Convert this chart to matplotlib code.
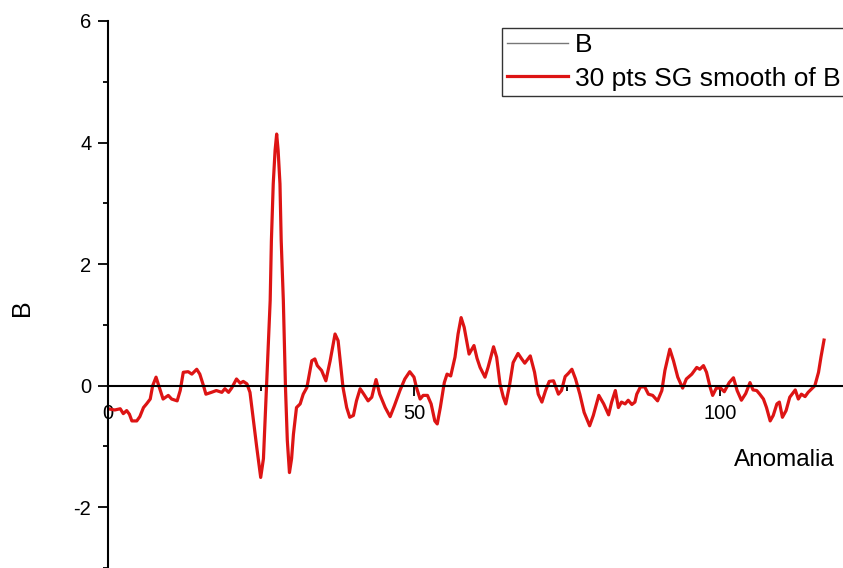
import matplotlib
matplotlib.use('Agg')
import matplotlib.pyplot as plt

plt.rcParams['font.family'] = ['Liberation Sans', 'DejaVu Sans']
plt.rcParams['axes.unicode_minus'] = False

# --- data (smoothed curve) ---
anomalia = [0.0, 1.1, 2.0, 2.5, 3.05, 3.5, 3.9, 4.7, 5.2, 5.8, 6.3, 6.9, 7.3, 7.85,
            8.4, 9.0, 9.85, 10.4, 11.3, 11.8, 12.3, 13.1, 13.7, 14.5, 15.0, 15.6,
            16.0, 16.9, 17.7, 18.6, 19.1, 19.7, 20.2, 21.0, 21.6, 22.1, 22.7, 23.2,
            23.7, 24.3, 24.95, 25.4, 25.9, 26.5, 26.7, 27.0, 27.3, 27.56, 27.8,
            28.1, 28.3, 28.65, 29.0, 29.3, 29.65, 30.0, 30.3, 30.8, 31.4, 31.9,
            32.5, 33.3, 33.8, 34.2, 34.9, 35.6, 36.3, 37.1, 37.6, 38.4, 39.0, 39.5,
            40.1, 40.6, 41.2, 41.8, 42.5, 43.1, 43.8, 44.4, 45.3, 46.1, 46.8, 47.7,
            48.5, 49.3, 50.0, 50.4, 51.0, 51.5, 52.2, 52.8, 53.4, 53.8, 54.3, 54.95,
            55.4, 56.0, 56.7, 57.2, 57.7, 58.2, 59.0, 59.8, 60.3, 60.8, 61.6, 62.1,
            63.0, 63.5, 64.05, 64.6, 65.0, 65.6, 66.2, 67.0, 67.6, 68.1, 69.0, 69.7,
            70.3, 70.9, 71.5, 72.1, 72.8, 73.6, 74.1, 74.7, 75.2, 75.8, 76.4, 77.1,
            77.8, 78.7, 79.3, 80.2, 81.0, 81.8, 82.3, 82.9, 83.4, 83.9, 84.5, 85.0,
            85.6, 86.1, 86.4, 87.0, 87.7, 88.3, 89.0, 89.8, 90.5, 91.0, 91.8, 92.4,
            93.1, 93.9, 94.5, 95.4, 96.2, 96.7, 97.3, 97.8, 98.4, 98.8, 99.4, 100.1,
            100.7, 101.5, 102.2, 102.8, 103.5, 104.2, 104.9, 105.4, 106.0, 106.5,
            107.1, 107.6, 108.2, 108.7, 109.3, 109.7, 110.2, 110.8, 111.4, 112.3,
            112.8, 113.3, 113.9, 114.4, 115.0, 115.5, 116.1, 116.5, 117.0]
b_smooth = [-0.38, -0.40, -0.38, -0.46, -0.41, -0.47, -0.58, -0.58, -0.51, -0.36, -0.30,
            -0.22, 0.00, 0.14, -0.03, -0.22, -0.16, -0.22, -0.25, -0.08, 0.22, 0.23,
            0.19, 0.27, 0.19, 0.00, -0.14, -0.11, -0.08, -0.11, -0.05, -0.11, -0.04,
            0.11, 0.04, 0.07, 0.03, -0.11, -0.52, -1.01, -1.51, -1.20, -0.03, 1.40,
            2.39, 3.32, 3.87, 4.14, 3.87, 3.32, 2.39, 1.40, -0.03, -0.90, -1.43,
            -1.20, -0.80, -0.36, -0.30, -0.14, -0.03, 0.41, 0.44, 0.33, 0.25, 0.08,
            0.41, 0.85, 0.74, -0.03, -0.36, -0.52, -0.49, -0.25, -0.05, -0.14, -0.25,
            -0.19, 0.10, -0.14, -0.36, -0.51, -0.33, -0.08, 0.11, 0.23, 0.14, -0.03,
            -0.22, -0.16, -0.16, -0.30, -0.58, -0.63, -0.36, 0.05, 0.19, 0.16, 0.47,
            0.85, 1.12, 0.96, 0.52, 0.66, 0.45, 0.30, 0.14, 0.30, 0.64, 0.47, 0.03,
            -0.19, -0.30, 0.00, 0.38, 0.53, 0.44, 0.37, 0.49, 0.22, -0.14, -0.27,
            -0.08, 0.07, 0.08, -0.14, -0.08, 0.15, 0.20, 0.27, 0.11, -0.14, -0.44,
            -0.66, -0.49, -0.16, -0.30, -0.48, -0.27, -0.08, -0.36, -0.27, -0.30,
            -0.24, -0.31, -0.27, -0.14, -0.02, -0.02, -0.14, -0.16, -0.25, -0.08,
            0.25, 0.60, 0.41, 0.14, -0.04, 0.11, 0.19, 0.30, 0.27, 0.33, 0.22, -0.03,
            -0.16, -0.04, -0.04, -0.10, 0.05, 0.13, -0.08, -0.24, -0.13, 0.05, -0.07,
            -0.08, -0.14, -0.22, -0.36, -0.58, -0.49, -0.30, -0.27, -0.52, -0.41,
            -0.19, -0.07, -0.22, -0.14, -0.18, -0.11, -0.05, 0.00, 0.22, 0.47, 0.75]

x_ticks = [0, 50, 100]
y_ticks = [-2, 0, 2, 4, 6]

fig = plt.figure(figsize=(8.43, 5.68), dpi=100)
ax = fig.add_axes([108 / 843, 0.0, 1 - 108 / 843, (568 - 21) / 568])

# raw series only appears in the legend
ax.plot([], [], color='#777777', lw=1.0, label='B')
ax.plot(anomalia, b_smooth, color='#dd1414', lw=2.3, label='30 pts SG smooth of B',
        solid_joinstyle='round')

ax.set_xlim(0, 120.1)
ax.set_ylim(-3, 6)

# Origin-like axes: y axis at left, x axis through y=0
ax.spines['top'].set_visible(False)
ax.spines['right'].set_visible(False)
ax.spines['bottom'].set_position(('data', 0))
ax.spines['left'].set_linewidth(1.5)
ax.spines['bottom'].set_linewidth(1.5)

ax.set_xticks(x_ticks)
ax.set_xticks([25, 75], minor=True)
ax.set_yticks(y_ticks)
ax.set_yticks([-3, -1, 1, 3, 5], minor=True)
ax.tick_params(which='major', direction='out', length=7, width=1.3, labelsize=14.5)
ax.tick_params(which='minor', direction='out', length=3.5, width=1.3)
ax.tick_params(axis='x', pad=6)
ax.tick_params(axis='y', pad=5)

ax.set_xlabel('Anomalia', fontsize=17.5, ha='right', va='center')
ax.xaxis.set_label_coords(0.989, 0.197)
ax.set_ylabel('B', fontsize=18, va='center')
ax.yaxis.set_label_coords(-0.117, 0.475)

leg = ax.legend(loc='upper left', bbox_to_anchor=(502 / 843, 1 - 28 / 568),
                bbox_transform=fig.transFigure, fontsize=19, frameon=True,
                fancybox=False, borderaxespad=0, borderpad=0.2,
                handlelength=2.3, handletextpad=0.25, labelspacing=0.35)
leg.get_frame().set_edgecolor('black')
leg.get_frame().set_linewidth(1.0)

fig.savefig('out.png', dpi=100)
